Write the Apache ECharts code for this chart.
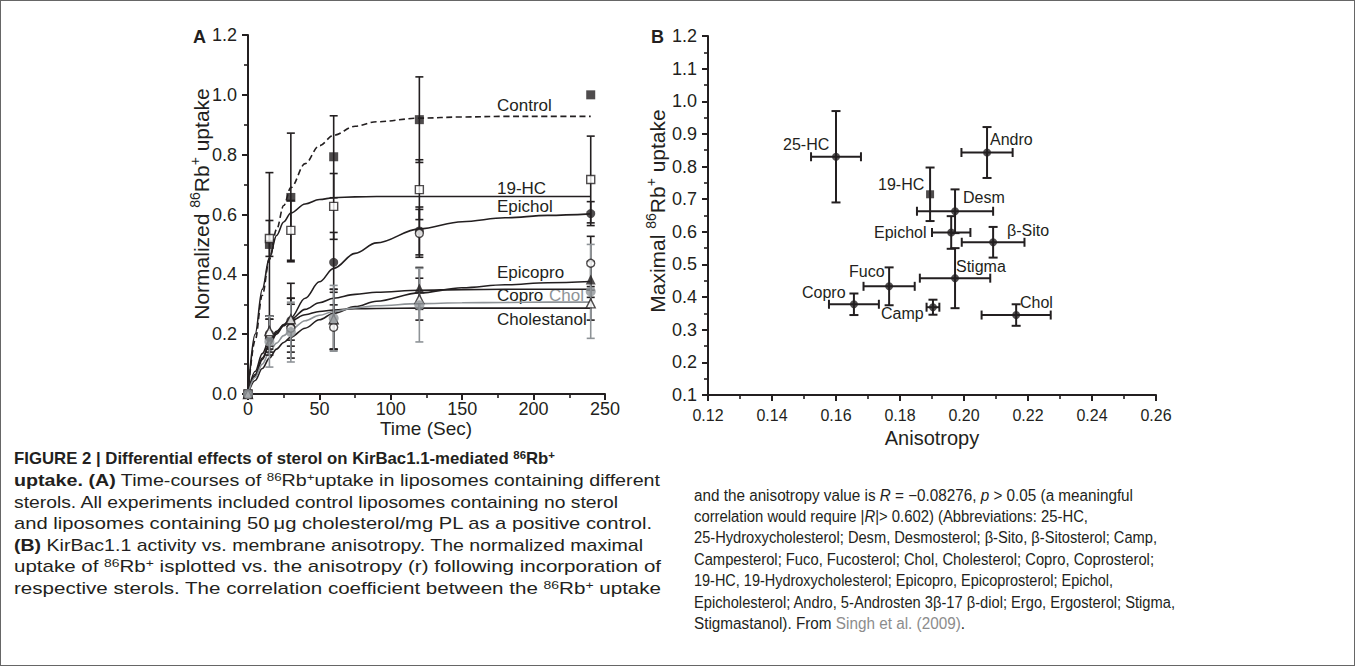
<!DOCTYPE html>
<html><head><meta charset="utf-8">
<script src="https://cdn.jsdelivr.net/npm/echarts@6/dist/echarts.min.js"></script>
<style>
html,body{margin:0;padding:0;background:#fff;width:1355px;height:666px;overflow:hidden;}
#chart{position:absolute;left:0;top:0;width:1355px;height:666px;}
#frame{position:absolute;left:0;top:0;width:1353px;height:664px;border:1px solid #666;pointer-events:none;}
.cap{position:absolute;font-family:"Liberation Sans",Arial,sans-serif;color:#231f20;white-space:nowrap;transform-origin:0 50%;line-height:20px;}
.cap sup{font-size:0.68em;position:relative;top:-0.45em;vertical-align:baseline;line-height:0;}
.gray{color:#8c8c8c;}
</style></head>
<body>
<div id="chart"></div>
<div id="frame"></div>
<script>
// ---------------- Panel A data ----------------
const timeTicks = [0, 50, 100, 150, 200, 250];
const timeCurve = [0, 5, 10, 15, 20, 25, 30, 40, 50, 60, 75, 90, 120, 150, 180, 210, 240];
const curveControl     = [0, 0.18, 0.33, 0.45, 0.55, 0.63, 0.69, 0.77, 0.83, 0.865, 0.895, 0.91, 0.922, 0.926, 0.928, 0.928, 0.928];
const curve19HC        = [0, 0.20, 0.35, 0.455, 0.53, 0.575, 0.605, 0.635, 0.65, 0.656, 0.659, 0.66, 0.66, 0.66, 0.66, 0.66, 0.66];
const curveEpichol     = [0, 0.06, 0.115, 0.165, 0.205, 0.232, 0.255, 0.32, 0.375, 0.42, 0.47, 0.505, 0.552, 0.576, 0.589, 0.597, 0.602];
const curveEpicopro    = [0, 0.045, 0.085, 0.12, 0.15, 0.172, 0.19, 0.22, 0.248, 0.27, 0.292, 0.31, 0.338, 0.355, 0.365, 0.372, 0.376];
const curveCopro       = [0, 0.065, 0.12, 0.165, 0.20, 0.228, 0.25, 0.283, 0.305, 0.32, 0.333, 0.34, 0.347, 0.349, 0.35, 0.35, 0.35];
const curveChol        = [0, 0.055, 0.10, 0.14, 0.17, 0.195, 0.215, 0.245, 0.263, 0.276, 0.288, 0.295, 0.302, 0.305, 0.306, 0.307, 0.307];
const curveCholestanol = [0, 0.075, 0.135, 0.18, 0.21, 0.23, 0.245, 0.265, 0.276, 0.281, 0.285, 0.286, 0.287, 0.287, 0.287, 0.287, 0.287];

const timePts = [0, 15, 30, 60, 120, 240];
const ptsControl     = [0, 0.50, 0.657, 0.793, 0.917, 1.00];
const errControl     = [0, 0.24, 0.215, 0.137, 0.143, 0];
const pts19HC        = [0, 0.52, 0.547, 0.627, 0.683, 0.717];
const err19HC        = [0, 0.06, 0.10, 0.11, 0.10, 0.145];
const ptsEpichol     = [0, 0.19, 0.245, 0.44, 0.545, 0.603];
const errEpichol     = [0, 0.06, 0.125, 0.10, 0.08, 0.04];
const ptsEpicopro    = [0, 0.20, 0.24, 0.25, 0.353, 0.383];
const errEpicopro    = [0, 0.05, 0.08, 0.10, 0.07, 0.06];
const ptsCopro       = [0, 0.20, 0.22, 0.223, 0.537, 0.437];
const errCopro       = [0, 0.06, 0.08, 0.075, 0.08, 0.09];
const ptsChol        = [0, 0.175, 0.207, 0.253, 0.297, 0.343];
const errChol        = [0, 0.085, 0.10, 0.11, 0.123, 0.157];
const ptsCholestanol = [0, 0.21, 0.25, 0.25, 0.317, 0.303];
const errCholestanol = [0, 0.05, 0.07, 0.10, 0.07, 0.056];

// ---------------- Panel B data ----------------
const sterolNames = ['25-HC', 'Andro', '19-HC', 'Desm', 'Epichol', 'β-Sito', 'Stigma', 'Fuco', 'Copro', 'Camp', 'Chol'];
const anisotropy  = [0.160, 0.2072, 0.1894, 0.1972, 0.196, 0.2091, 0.1972, 0.1766, 0.1656, 0.1903, 0.2163];
const maxUptake   = [0.83, 0.843, 0.715, 0.663, 0.598, 0.568, 0.458, 0.433, 0.378, 0.369, 0.345];
const anisoErr    = [0.0078, 0.008, 0, 0.0119, 0.006, 0.0098, 0.011, 0.008, 0.0078, 0.002, 0.0108];
const uptakeErr   = [0.14, 0.078, 0.082, 0.067, 0.05, 0.047, 0.092, 0.058, 0.033, 0.023, 0.033];

// ---------------- Caption text ----------------
const captionLeft = [
  '<b>FIGURE 2 | Differential effects of sterol on KirBac1.1-mediated <sup>86</sup>Rb<sup>+</sup></b>',
  '<b>uptake. (A)</b> Time-courses of <sup>86</sup>Rb<sup>+</sup>uptake in liposomes containing different',
  'sterols. All experiments included control liposomes containing no sterol',
  'and liposomes containing 50\u2009\u03bcg cholesterol/mg PL as a positive control.',
  '<b>(B)</b> KirBac1.1 activity vs. membrane anisotropy. The normalized maximal',
  'uptake of <sup>86</sup>Rb<sup>+</sup> isplotted vs. the anisotropy (r) following incorporation of',
  'respective sterols. The correlation coefficient between the <sup>86</sup>Rb<sup>+</sup> uptake'
];
const captionRight = [
  'and the anisotropy value is <i>R</i> = \u22120.08276, <i>p</i> &gt; 0.05 (a meaningful',
  'correlation would require |<i>R</i>|&gt; 0.602) (Abbreviations: 25-HC,',
  '25-Hydroxycholesterol; Desm, Desmosterol; \u03b2-Sito, \u03b2-Sitosterol; Camp,',
  'Campesterol; Fuco, Fucosterol; Chol, Cholesterol; Copro, Coprosterol;',
  '19-HC, 19-Hydroxycholesterol; Epicopro, Epicoprosterol; Epichol,',
  'Epicholesterol; Andro, 5-Androsten 3\u03b2-17 \u03b2-diol; Ergo, Ergosterol; Stigma,',
  'Stigmastanol). From <span class="gray">Singh et al. (2009)</span>.'
];

// ---------------- Chart ----------------
const FONT = '"Liberation Sans", Arial, sans-serif';
const INK = '#231f20';
const GRAY = '#8e9397';

function zip2(xs, ys) { return xs.map((x, i) => [x, ys[i]]); }
function zip3(xs, ys, es) { return xs.map((x, i) => [x, ys[i], es[i]]); }

function errBarsA(color) {
  return function (params, api) {
    const x = api.value(0), y = api.value(1), e = api.value(2);
    if (!e) return null;
    const p1 = api.coord([x, y + e]), p2 = api.coord([x, y - e]);
    const w = 4;
    const st = { stroke: color, lineWidth: 1.6 };
    return { type: 'group', children: [
      { type: 'line', shape: { x1: p1[0], y1: p1[1], x2: p2[0], y2: p2[1] }, style: st },
      { type: 'line', shape: { x1: p1[0] - w, y1: p1[1], x2: p1[0] + w, y2: p1[1] }, style: st },
      { type: 'line', shape: { x1: p2[0] - w, y1: p2[1], x2: p2[0] + w, y2: p2[1] }, style: st }
    ]};
  };
}
function errBarsB(params, api) {
  const x = api.value(0), y = api.value(1), ex = api.value(2), ey = api.value(3);
  const st = { stroke: INK, lineWidth: 2 };
  const w = 4.5;
  const ch = [];
  if (ey) {
    const a = api.coord([x, y + ey]), b = api.coord([x, y - ey]);
    ch.push({ type: 'line', shape: { x1: a[0], y1: a[1], x2: b[0], y2: b[1] }, style: st });
    ch.push({ type: 'line', shape: { x1: a[0] - w, y1: a[1], x2: a[0] + w, y2: a[1] }, style: st });
    ch.push({ type: 'line', shape: { x1: b[0] - w, y1: b[1], x2: b[0] + w, y2: b[1] }, style: st });
  }
  if (ex) {
    const a = api.coord([x - ex, y]), b = api.coord([x + ex, y]);
    ch.push({ type: 'line', shape: { x1: a[0], y1: a[1], x2: b[0], y2: b[1] }, style: st });
    ch.push({ type: 'line', shape: { x1: a[0], y1: a[1] - w, x2: a[0], y2: a[1] + w }, style: st });
    ch.push({ type: 'line', shape: { x1: b[0], y1: b[1] - w, x2: b[0], y2: b[1] + w }, style: st });
  }
  return { type: 'group', children: ch };
}

const axisCommon = {
  axisLine: { onZero: false, lineStyle: { color: INK, width: 2 } },
  axisTick: { inside: false, length: 6, lineStyle: { color: INK, width: 2 } },
  minorTick: { show: true, splitNumber: 2, length: 4, lineStyle: { color: INK, width: 1.6 } },
  splitLine: { show: false },
  minorSplitLine: { show: false }
};

const seriesA = [
  { name: 'Control', curve: curveControl, pts: ptsControl, err: errControl, color: INK, dashed: true, symbol: 'rect', size: 9, fill: INK },
  { name: '19-HC', curve: curve19HC, pts: pts19HC, err: err19HC, color: INK, symbol: 'rect', size: 8, fill: '#fff' },
  { name: 'Epichol', curve: curveEpichol, pts: ptsEpichol, err: errEpichol, color: INK, symbol: 'circle', size: 9, fill: INK },
  { name: 'Epicopro', curve: curveEpicopro, pts: ptsEpicopro, err: errEpicopro, color: INK, symbol: 'triangle', size: 10, fill: INK },
  { name: 'Copro', curve: curveCopro, pts: ptsCopro, err: errCopro, color: INK, symbol: 'circle', size: 8, fill: '#fff' },
  { name: 'Cholestanol', curve: curveCholestanol, pts: ptsCholestanol, err: errCholestanol, color: INK, symbol: 'triangle', size: 9, fill: '#fff' },
  { name: 'Chol', curve: curveChol, pts: ptsChol, err: errChol, color: GRAY, symbol: 'circle', size: 10, fill: GRAY }
];

const series = [];
seriesA.forEach(s => {
  series.push({
    type: 'line', xAxisIndex: 0, yAxisIndex: 0, data: zip2(timeCurve, s.curve),
    smooth: 0.35, smoothMonotone: 'x', showSymbol: false, silent: true, z: 2,
    lineStyle: { color: s.color, width: 1.6, type: s.dashed ? [6, 3.5] : 'solid' }
  });
});
seriesA.forEach(s => {
  series.push({
    type: 'custom', xAxisIndex: 0, yAxisIndex: 0, data: zip3(timePts, s.pts, s.err),
    renderItem: errBarsA(s.color), silent: true, z: 3
  });
});
seriesA.forEach(s => {
  series.push({
    type: 'scatter', xAxisIndex: 0, yAxisIndex: 0, data: zip2(timePts, s.pts),
    symbol: s.symbol, symbolSize: s.size, silent: true, z: 4,
    itemStyle: { color: s.fill, borderColor: s.color, borderWidth: s.fill === '#fff' ? 1.4 : 0 }
  });
});
// Panel B
series.push({
  type: 'custom', xAxisIndex: 1, yAxisIndex: 1,
  data: anisotropy.map((x, i) => [x, maxUptake[i], anisoErr[i], uptakeErr[i]]),
  renderItem: errBarsB, silent: true, z: 3
});
series.push({
  type: 'scatter', xAxisIndex: 1, yAxisIndex: 1, silent: true, z: 4,
  data: anisotropy.map((x, i) => ({ value: [x, maxUptake[i]], symbol: sterolNames[i] === '19-HC' ? 'rect' : 'circle' })),
  symbolSize: 8, itemStyle: { color: INK }
});

function txt(x, y, text, opts) {
  return Object.assign({ type: 'text', x: x, y: y, silent: true,
    style: Object.assign({ text: text, font: '16px ' + FONT, fill: INK, textAlign: 'left', textVerticalAlign: 'middle' }, opts || {}) });
}
const sup = { fontSize: 14, fontFamily: FONT, fill: INK, verticalAlign: 'top', lineHeight: 14 };

const labelsA = [
  ['Control', 497, 105], ['19-HC', 497, 188], ['Epichol', 497, 206], ['Epicopro', 497, 272],
  ['Copro', 497, 295], ['Cholestanol', 497, 319]
];
const labelsBpos = [
  [783, 144], [990, 139], [878, 184], [963, 197], [874, 232], [1007, 230],
  [956, 266], [849, 271], [802, 292], [881, 313], [1020, 302]
];

const graphics = [];
labelsA.forEach(l => graphics.push(txt(l[1], l[2], l[0], { font: '17px ' + FONT })));
graphics.push(txt(549, 295, 'Chol', { font: '17px ' + FONT, fill: GRAY }));
sterolNames.forEach((n, i) => graphics.push(txt(labelsBpos[i][0], labelsBpos[i][1], n, { font: '16px ' + FONT })));
graphics.push(txt(193, 37, 'A', { font: 'bold 18px ' + FONT }));
graphics.push(txt(651, 37, 'B', { font: 'bold 18px ' + FONT }));
graphics.push({ type: 'text', x: 201, y: 204, rotation: Math.PI / 2, silent: true,
  style: { text: 'Normalized {s|86}Rb{s|+} uptake', font: '21px ' + FONT, fill: INK, textAlign: 'center', textVerticalAlign: 'middle',
    lineHeight: 26, rich: { s: sup } } });
graphics.push({ type: 'text', x: 657, y: 211, rotation: Math.PI / 2, silent: true,
  style: { text: 'Maximal {s|86}Rb{s|+} uptake', font: '21px ' + FONT, fill: INK, textAlign: 'center', textVerticalAlign: 'middle',
    lineHeight: 26, rich: { s: sup } } });
graphics.push(txt(426, 428, 'Time (Sec)', { font: '19px ' + FONT, textAlign: 'center' }));
graphics.push(txt(932, 438, 'Anisotropy', { font: '20px ' + FONT, textAlign: 'center' }));

const option = {
  animation: false,
  backgroundColor: 'transparent',
  grid: [
    { left: 248, top: 35, width: 357, height: 359 },
    { left: 708, top: 36, width: 448, height: 359 }
  ],
  xAxis: [
    Object.assign({}, axisCommon, { gridIndex: 0, type: 'value', min: 0, max: 250, interval: 50,
      axisLabel: { fontSize: 18, fontFamily: FONT, color: INK, margin: 6 } }),
    Object.assign({}, axisCommon, { gridIndex: 1, type: 'value', min: 0.12, max: 0.26, interval: 0.02,
      axisLabel: { fontSize: 16, fontFamily: FONT, color: INK, margin: 12, formatter: v => v.toFixed(2) } })
  ],
  yAxis: [
    Object.assign({}, axisCommon, { gridIndex: 0, type: 'value', min: 0, max: 1.2, interval: 0.2,
      axisLabel: { fontSize: 18, fontFamily: FONT, color: INK, margin: 11, formatter: v => v.toFixed(1) } }),
    Object.assign({}, axisCommon, { gridIndex: 1, type: 'value', min: 0.1, max: 1.2, interval: 0.1,
      axisLabel: { fontSize: 18, fontFamily: FONT, color: INK, margin: 11, formatter: v => v.toFixed(1) } })
  ],
  graphic: graphics,
  series: series
};

const chart = echarts.init(document.getElementById('chart'), null, { renderer: 'svg' });
chart.setOption(option);

// ---------------- Caption placement ----------------
const capLeftY = [459, 481, 503, 524, 546, 567, 589];
const capLeftEnd = [555, 660, 618, 652, 643, 661, 661];
const capRightY = [496, 517, 538, 560, 581, 603, 624];
const capRightEnd = [1133, 1088, 1157, 1154, 1113, 1175, 965];
function placeLines(lines, x, ys, ends, fontSize) {
  lines.forEach((html, i) => {
    const d = document.createElement('div');
    d.className = 'cap';
    d.style.fontSize = fontSize + 'px';
    d.innerHTML = html;
    d.style.left = x + 'px';
    d.style.top = (ys[i] - 10) + 'px';
    document.body.appendChild(d);
    const w = d.getBoundingClientRect().width;
    const target = ends[i] - x;
    d.style.transform = 'scaleX(' + (target / w) + ')';
  });
}
placeLines(captionLeft, 14, capLeftY, capLeftEnd, 17);
placeLines(captionRight, 694, capRightY, capRightEnd, 16);
</script>
</body></html>
